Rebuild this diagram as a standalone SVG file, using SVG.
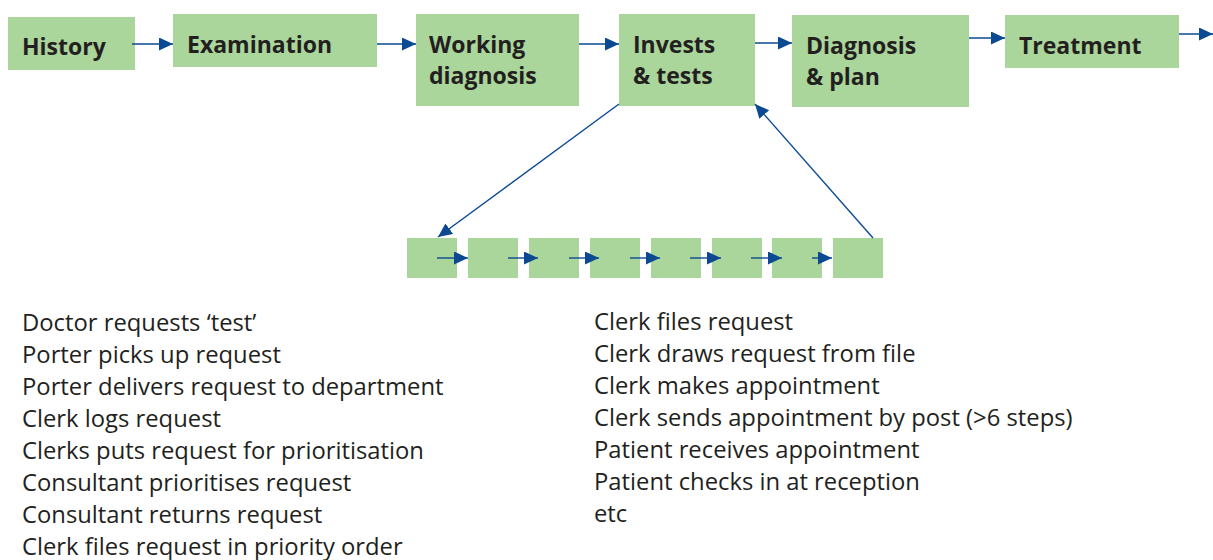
<svg xmlns="http://www.w3.org/2000/svg" width="1213" height="560" viewBox="0 0 1213 560">
<defs>
<style>
.box{fill:#aad59b;}
.lbl{font-family:"Open Sans","Liberation Sans",sans-serif;font-weight:bold;font-size:23px;fill:#231f20;}
.item{font-family:"Open Sans","Liberation Sans",sans-serif;font-size:23.8px;fill:#231f20;}
.con{stroke:#0b4a93;stroke-width:1.4;fill:none;marker-end:url(#ah);}
</style>
<marker id="ah" markerUnits="userSpaceOnUse" markerWidth="16" markerHeight="14" refX="14" refY="6.5" orient="auto">
<path d="M0,0 L14,6.5 L0,13 Z" fill="#0b4a93"/>
</marker>
</defs>
<rect width="1213" height="560" fill="#ffffff"/>
<g id="history"><rect class="box" x="8" y="17" width="127" height="53"/><text class="lbl" x="22" y="55">History</text></g>
<g id="examination"><rect class="box" x="173" y="14" width="204" height="53"/><text class="lbl" x="187" y="53">Examination</text></g>
<g id="working"><rect class="box" x="416" y="14" width="163" height="92"/><text class="lbl" x="429" y="53">Working</text><text class="lbl" x="429" y="84">diagnosis</text></g>
<g id="invests"><rect class="box" x="619" y="14" width="136" height="92"/><text class="lbl" x="633" y="53">Invests</text><text class="lbl" x="633" y="84">&amp; tests</text></g>
<g id="diagnosis"><rect class="box" x="792" y="15" width="177" height="92"/><text class="lbl" x="806" y="54">Diagnosis</text><text class="lbl" x="806" y="85">&amp; plan</text></g>
<g id="treatment"><rect class="box" x="1005" y="15" width="174" height="53"/><text class="lbl" x="1019" y="54">Treatment</text></g>
<g id="step1"><rect class="box" x="407" y="238" width="50" height="40"/></g>
<g id="step2"><rect class="box" x="468" y="238" width="50" height="40"/></g>
<g id="step3"><rect class="box" x="529" y="238" width="50" height="40"/></g>
<g id="step4"><rect class="box" x="590" y="238" width="50" height="40"/></g>
<g id="step5"><rect class="box" x="651" y="238" width="50" height="40"/></g>
<g id="step6"><rect class="box" x="712" y="238" width="50" height="40"/></g>
<g id="step7"><rect class="box" x="772" y="238" width="50" height="40"/></g>
<g id="step8"><rect class="box" x="833" y="238" width="50" height="40"/></g>
<g id="connectors">
<line class="con" x1="132" y1="44" x2="173" y2="44"/>
<line class="con" x1="377" y1="44" x2="416" y2="44"/>
<line class="con" x1="579" y1="44" x2="619" y2="44"/>
<line class="con" x1="755" y1="43" x2="792" y2="43"/>
<line class="con" x1="969" y1="38" x2="1005" y2="38"/>
<line class="con" x1="1179" y1="34" x2="1213" y2="34"/>
<line class="con" x1="619" y1="104" x2="438" y2="237"/>
<line class="con" x1="873" y1="238" x2="755" y2="104"/>
<line class="con" x1="437" y1="258" x2="468" y2="258"/>
<line class="con" x1="508" y1="258" x2="538" y2="258"/>
<line class="con" x1="569" y1="258" x2="599" y2="258"/>
<line class="con" x1="630" y1="258" x2="660" y2="258"/>
<line class="con" x1="690" y1="258" x2="721" y2="258"/>
<line class="con" x1="751" y1="258" x2="782" y2="258"/>
<line class="con" x1="812" y1="258" x2="832" y2="258"/>
</g>
<g id="list-left">
<text class="item" x="22" y="331">Doctor requests ‘test’</text>
<text class="item" x="22" y="363">Porter picks up request</text>
<text class="item" x="22" y="395">Porter delivers request to department</text>
<text class="item" x="22" y="427">Clerk logs request</text>
<text class="item" x="22" y="459">Clerks puts request for prioritisation</text>
<text class="item" x="22" y="491">Consultant prioritises request</text>
<text class="item" x="22" y="523">Consultant returns request</text>
<text class="item" x="22" y="555">Clerk files request in priority order</text>
</g>
<g id="list-right">
<text class="item" x="594" y="330">Clerk files request</text>
<text class="item" x="594" y="362">Clerk draws request from file</text>
<text class="item" x="594" y="394">Clerk makes appointment</text>
<text class="item" x="594" y="426">Clerk sends appointment by post (&gt;6 steps)</text>
<text class="item" x="594" y="458">Patient receives appointment</text>
<text class="item" x="594" y="490">Patient checks in at reception</text>
<text class="item" x="594" y="522">etc</text>
</g>
</svg>
